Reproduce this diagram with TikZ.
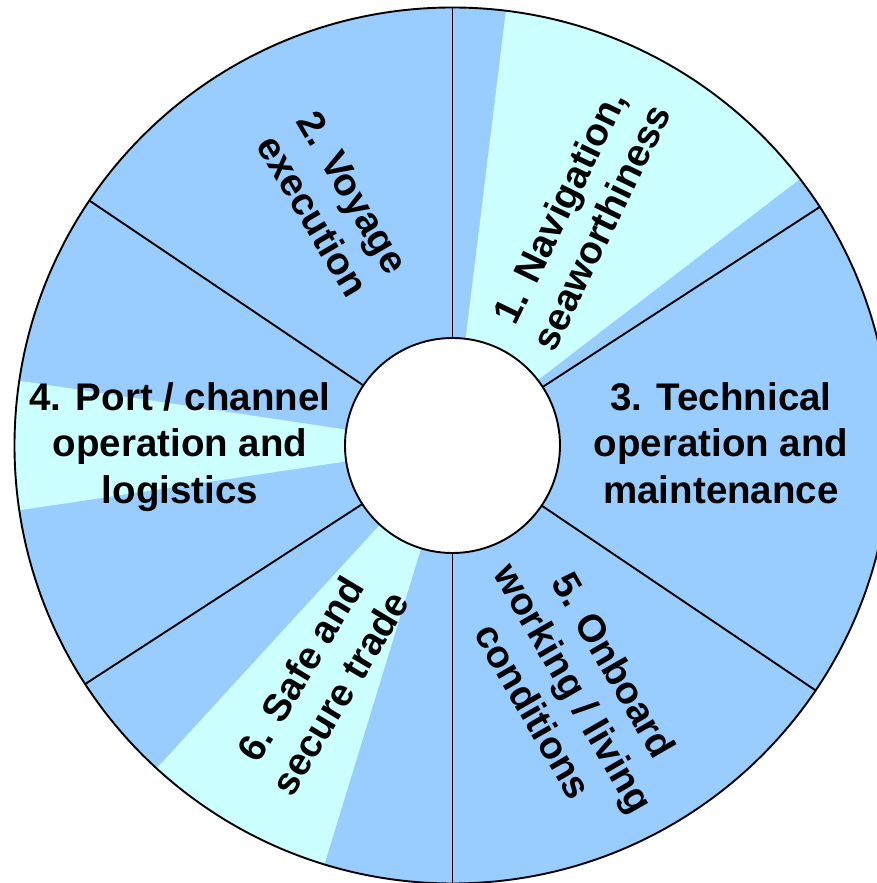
\documentclass[tikz,border=0pt]{standalone}
\usepackage{fontspec}
\setmainfont{Liberation Sans}
\definecolor{ringblue}{HTML}{99CCFF}
\definecolor{ringlight}{HTML}{CCFFFF}
\tikzset{
  rimdisk/.style={circle, fill=ringblue, minimum size=876pt, inner sep=0pt, outer sep=0pt},
  hubdisk/.style={circle, fill=white, draw=black, line width=1.9pt, minimum size=215pt, inner sep=0pt, outer sep=0pt},
  lightwedge/.style={fill=ringlight},
  divider/.style={draw=black, line width=1.9pt},
  label/.style={font=\bfseries\fontsize{38.5}{46.5}\selectfont, align=center, inner sep=0pt, text=black}
}
\begin{document}
\begin{tikzpicture}
\useasboundingbox (0pt,0pt) rectangle (876pt,883pt);
\coordinate (C) at (452.5pt,437.5pt);
\node[rimdisk] (rim) at (C) {};
% light highlight wedges
\fill[lightwedge] (C) -- ++(37.5:438pt) arc[start angle=37.5, end angle=83, radius=438pt] -- cycle;
\fill[lightwedge] (C) -- ++(171.5:438pt) arc[start angle=171.5, end angle=188.5, radius=438pt] -- cycle;
\fill[lightwedge] (C) -- ++(227.5:438pt) arc[start angle=227.5, end angle=253, radius=438pt] -- cycle;
\node[hubdisk] (hub) at (C) {};
% dividers
\foreach \a in {33.5,90,146.5,213.5,270,326.5}
  \draw[divider] (hub.\a) -- (rim.\a);
\draw[divider] (C) circle[radius=438pt];
% labels
\node[label, rotate=64] (l1) at (580pt,666pt) {1. Navigation,\\seaworthiness};
\node[label, rotate=-59.5] (l2) at (333pt,679pt) {2. Voyage\\execution};
\node[label] (l3) at (721pt,440pt) {3. Technical\\operation and\\maintenance};
\node[label] (l4) at (180pt,436pt) {4. Port / channel\\operation and\\logistics};
\node[label, rotate=-60] (l5) at (574pt,195pt) {5. Onboard\\working / living\\conditions};
\node[label, rotate=59] (l6) at (320pt,202pt) {6. Safe and\\secure trade};
\end{tikzpicture}
\end{document}
